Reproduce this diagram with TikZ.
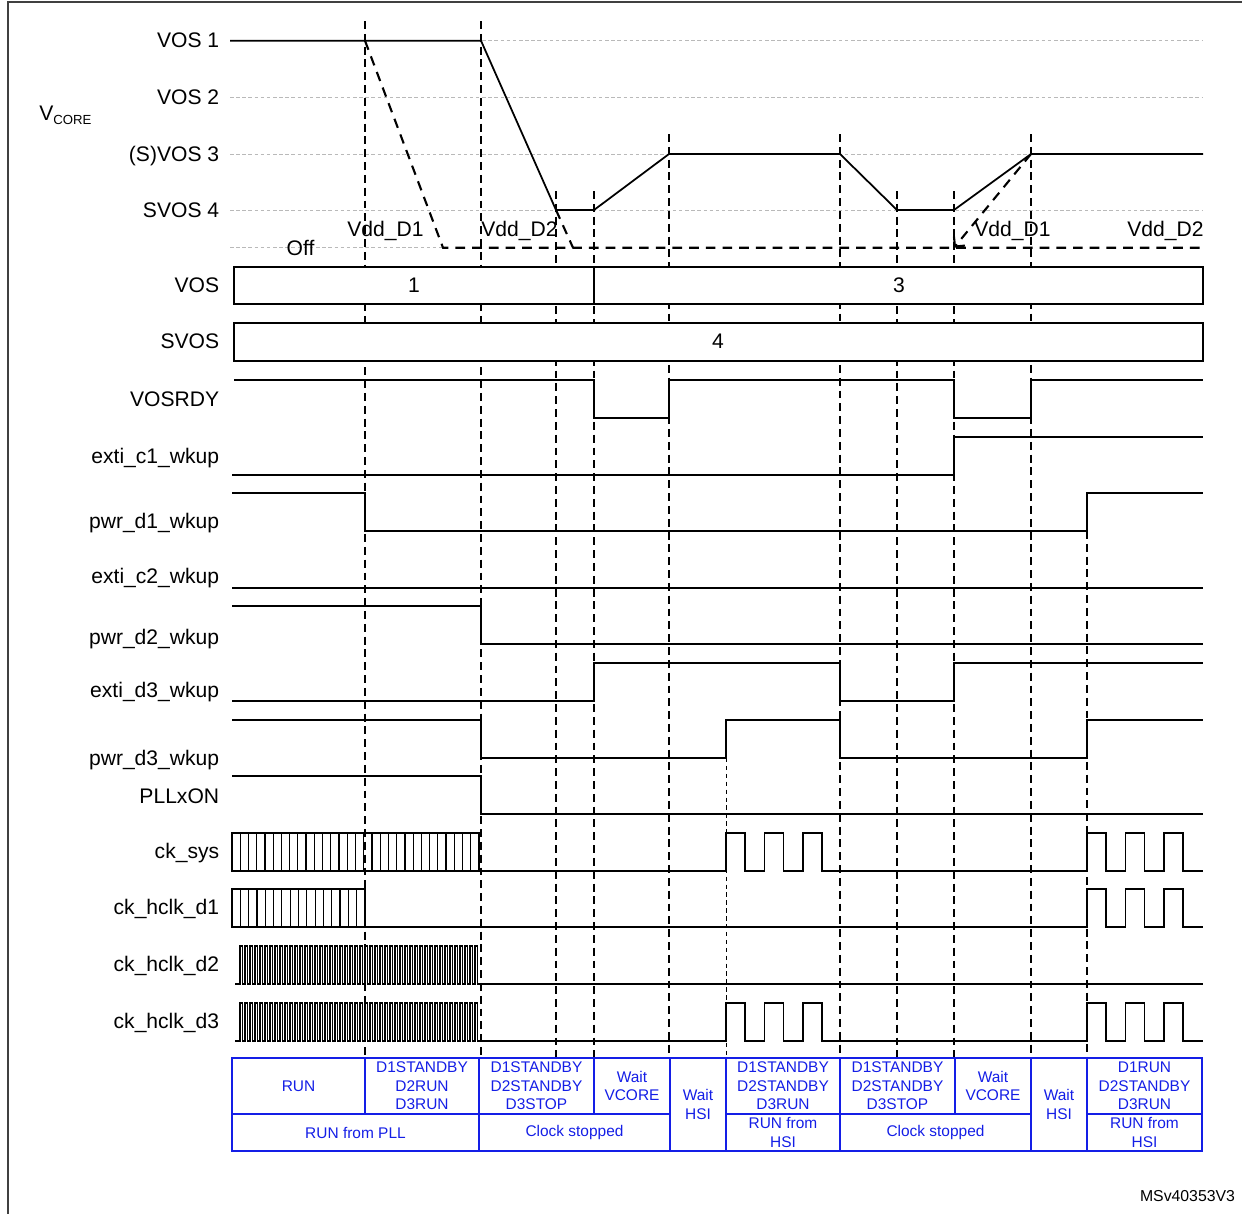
\documentclass[tikz,border=0pt]{standalone}
\usepackage{fontspec}
\setmainfont{Liberation Sans}
\usetikzlibrary{arrows.meta}
\definecolor{tblblue}{RGB}{20,30,230}
\definecolor{lvlgray}{RGB}{185,185,185}

\begin{document}
\begin{tikzpicture}[x=0.02cm, y=-0.02cm,
    sig/.style={line width=1pt},
    fastclk/.style={line width=0.65pt},
    hatch/.style={line width=0.7pt},
    guide/.style={line width=0.65pt, dash pattern=on 4.5pt off 2.8pt},
    fineguide/.style={line width=0.5pt, dash pattern=on 2.5pt off 2pt},
    lvl/.style={lvlgray, line width=0.5pt, dash pattern=on 2pt off 1.5pt},
    vdd/.style={line width=1.2pt, dash pattern=on 5.5pt off 4pt},
    lbl/.style={font=\fontsize{12}{14}\selectfont, inner sep=0pt},
    tbl/.style={tblblue, line width=0.8pt},
    tcell/.style={tblblue, font=\fontsize{8.8}{10.5}\selectfont, align=center, inner sep=0pt}]

  \useasboundingbox (0,0) rectangle (1242,1214);
  \draw[black!75, line width=1pt] (8,1214) -- (8,2) -- (1242,2);

  % voltage levels
  \foreach \y in {40.7,97.3,154,210}
    \draw[lvl] (230,\y) -- (1203,\y);
  \draw[lvl] (230,247.7) -- (443,247.7);

  % time markers
  \foreach \x in {365,481} \draw[guide] (\x,21) -- (\x,1058);
  \foreach \x in {669,840,1031} \draw[guide] (\x,134) -- (\x,1058);
  \foreach \x in {556,594,897,954} \draw[guide] (\x,191) -- (\x,1058);
  \draw[fineguide] (726,758) -- (726,1058);
  \draw[guide] (1087,531) -- (1087,1058);

  % V_CORE
  \draw[sig] (230,40.7) -- (481,40.7) -- (556,210) -- (594,210) -- (669,154) -- (840,154)
    -- (897,210) -- (954,210) -- (1031,154) -- (1203,154);
  \draw[vdd] (365,40.7) -- (443,247.7) -- (1200,247.7);
  \draw[vdd] (556,210) -- (573,247.7);
  \draw[vdd, -{Straight Barb[length=4pt]}] (1031,154) -- (954,247.7);

  \node[lbl, anchor=base west] (vcore) at (39,120.7) {V\raisebox{-1.9pt}{\fontsize{7.5}{8}\selectfont CORE}};
  \node[lbl, anchor=base] (vddoneA) at (385.5,236) {Vdd\_D1};
  \node[lbl, anchor=base] (vddtwoA) at (519.5,236) {Vdd\_D2};
  \node[lbl, anchor=base] (vddoneB) at (1012.5,236) {Vdd\_D1};
  \node[lbl, anchor=base] (vddtwoB) at (1165.5,236) {Vdd\_D2};
  \node[lbl, anchor=base] (off) at (300.5,255) {Off};

  % VOS / SVOS
  \draw[sig, fill=white] (234,267) rectangle (1203,304);
  \draw[sig] (594,267) -- (594,304);
  \draw[sig, fill=white] (234,323) rectangle (1203,361);
  \node[lbl, anchor=base] (vosA) at (414,292.5) {1};
  \node[lbl, anchor=base] (vosB) at (899,292.5) {3};
  \node[lbl, anchor=base] (svos) at (718,348.5) {4};

  % signal names
  \foreach \t/\y [count=\n] in {VOS 1/47.5, VOS 2/104.5, (S)VOS 3/161, SVOS 4/217.5,
      VOS/292.5, SVOS/348.5, VOSRDY/406, exti\_c1\_wkup/463, pwr\_d1\_wkup/528.5,
      exti\_c2\_wkup/583.5, pwr\_d2\_wkup/644, exti\_d3\_wkup/697, pwr\_d3\_wkup/765,
      PLLxON/803, ck\_sys/858, ck\_hclk\_d1/914, ck\_hclk\_d2/971, ck\_hclk\_d3/1028}
    \node[lbl, anchor=base east] (name\n) at (219.5,\y) {\t};

  % control signals
  \draw[sig] (234,380) -- (594,380) -- (594,418) -- (669,418) -- (669,380) -- (954,380)
    -- (954,418) -- (1031,418) -- (1031,380) -- (1203,380);
  \draw[sig] (232,475) -- (954,475) -- (954,437) -- (1203,437);
  \draw[sig] (232,493) -- (365,493) -- (365,531) -- (1087,531) -- (1087,493) -- (1203,493);
  \draw[sig] (232,588) -- (1203,588);
  \draw[sig] (232,606) -- (481,606) -- (481,644) -- (1203,644);
  \draw[sig] (232,701) -- (594,701) -- (594,663) -- (840,663) -- (840,701) -- (954,701)
    -- (954,663) -- (1203,663);
  \draw[sig] (232,720) -- (481,720) -- (481,758) -- (726,758) -- (726,720) -- (840,720)
    -- (840,758) -- (1087,758) -- (1087,720) -- (1203,720);
  \draw[sig] (232,776) -- (481,776) -- (481,814) -- (1203,814);

  % ck_sys
  \draw[sig] (232,833) rectangle (479,871);
  \foreach \i in {1,...,29} \draw[hatch] ({232+\i*8.233},833) -- ++(0,38);
  \draw[sig] (479,871) -- (726,871)
    \foreach \k in {1,2,3} { -- ++(0,-38) -- ++(19.2,0) -- ++(0,38) -- ++(19.2,0) }
    -- (1087,871)
    \foreach \k in {1,2,3} { -- ++(0,-38) -- ++(19.2,0) -- ++(0,38) -- ++(19.2,0) }
    -- (1203,871);

  % ck_hclk_d1
  \draw[sig] (232,889) rectangle (365,927);
  \foreach \i in {1,...,15} \draw[hatch] ({232+\i*8.3125},889) -- ++(0,38);
  \draw[sig] (365,927) -- (1087,927)
    \foreach \k in {1,2,3} { -- ++(0,-38) -- ++(19.2,0) -- ++(0,38) -- ++(19.2,0) }
    -- (1203,927);

  % ck_hclk_d2
  \draw[fastclk] (235,984) -- (240,984)
    \foreach \k in {1,...,48} { -- ++(0,-38) -- ++(2.5,0) -- ++(0,38) -- ++(2.5,0) };
  \draw[sig] (480,984) -- (1203,984);

  % ck_hclk_d3
  \draw[fastclk] (235,1041) -- (240,1041)
    \foreach \k in {1,...,48} { -- ++(0,-38) -- ++(2.5,0) -- ++(0,38) -- ++(2.5,0) };
  \draw[sig] (480,1041) -- (726,1041)
    \foreach \k in {1,2,3} { -- ++(0,-38) -- ++(19.2,0) -- ++(0,38) -- ++(19.2,0) }
    -- (1087,1041)
    \foreach \k in {1,2,3} { -- ++(0,-38) -- ++(19.2,0) -- ++(0,38) -- ++(19.2,0) }
    -- (1203,1041);

  % mode table
  \draw[tbl] (232,1058) rectangle (1202,1151);
  \draw[tbl] (232,1114) -- (670,1114) (726,1114) -- (1031,1114) (1087,1114) -- (1202,1114);
  \foreach \x in {479,670,726,840,1031,1087} \draw[tbl] (\x,1058) -- (\x,1151);
  \foreach \x in {365,594,955} \draw[tbl] (\x,1058) -- (\x,1114);

  \node[tcell] (run) at (298.5,1086) {RUN};
  \node[tcell] (stbyA) at (422,1086) {D1STANDBY\\D2RUN\\D3RUN};
  \node[tcell] (stopA) at (536.5,1086) {D1STANDBY\\D2STANDBY\\D3STOP};
  \node[tcell] (waitvA) at (632,1086) {Wait\\VCORE};
  \node[tcell] (waithA) at (698,1104.5) {Wait\\HSI};
  \node[tcell] (stbyB) at (783,1086) {D1STANDBY\\D2STANDBY\\D3RUN};
  \node[tcell] (stopB) at (897.5,1086) {D1STANDBY\\D2STANDBY\\D3STOP};
  \node[tcell] (waitvB) at (993,1086) {Wait\\VCORE};
  \node[tcell] (waithB) at (1059,1104.5) {Wait\\HSI};
  \node[tcell] (runB) at (1144.5,1086) {D1RUN\\D2STANDBY\\D3RUN};
  \node[tcell] (pll) at (355.5,1132.5) {RUN from PLL};
  \node[tcell] (clkA) at (574.5,1132.5) {Clock stopped};
  \node[tcell] (hsiA) at (783,1132.5) {RUN from\\HSI};
  \node[tcell] (clkB) at (935.5,1132.5) {Clock stopped};
  \node[tcell] (hsiB) at (1144.5,1132.5) {RUN from\\HSI};

  \node[font=\fontsize{9}{10}\selectfont, anchor=base, inner sep=0pt] (ref) at (1187.5,1201) {MSv40353V3};
\end{tikzpicture}
\end{document}
